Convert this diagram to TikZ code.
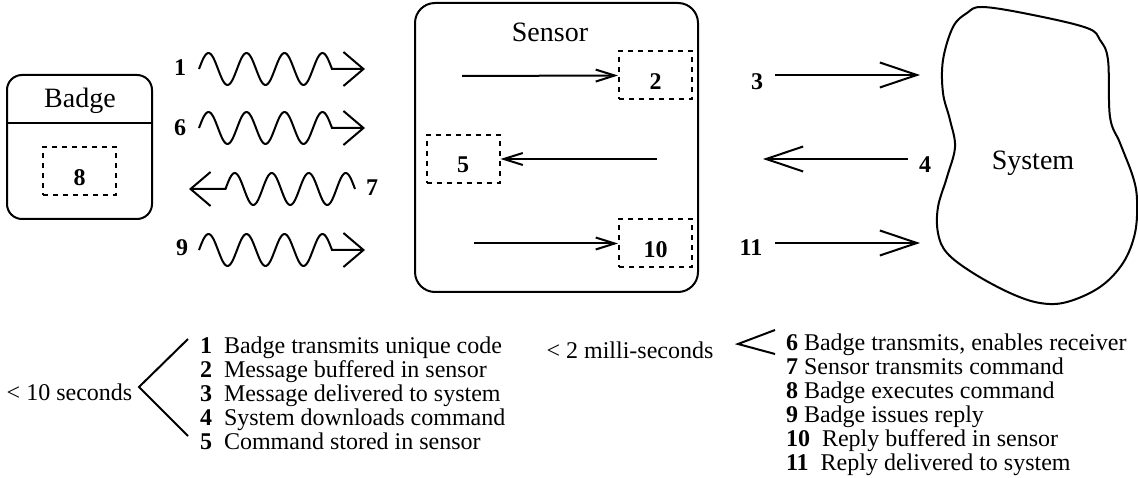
\documentclass[tikz,border=0pt]{standalone}
\usepackage{fontspec}
\setmainfont{Liberation Serif}
\usetikzlibrary{arrows.meta}

\tikzset{
    lbl/.style={font=\fontsize{28}{28}\selectfont, inner sep=0pt},
    num/.style={font=\fontsize{24}{24}\selectfont\bfseries, inner sep=0pt},
    unit/.style={draw, rounded corners=#1, inner sep=0pt},
    buffer/.style={draw, dash pattern=on 5pt off 5pt, minimum width=73pt, minimum height=48pt,
        inner sep=0pt, text height=28pt, font=\fontsize{24}{24}\selectfont\bfseries},
    radio/.style={-{Straight Barb[length=20pt, width=34pt]}},
    wire/.style={-{Straight Barb[length=19pt, width=12pt]}},
    link/.style={-{Straight Barb[length=37pt, width=25pt]}},
    note/.style={font=\fontsize{24}{24}\selectfont, inner sep=0pt, align=left},
}

\begin{document}
\begin{tikzpicture}[x=1pt, y=-1pt, line width=2pt]
        \useasboundingbox (0,0) rectangle (1138,478);

        % badge
        \node[unit=15pt, minimum width=145pt, minimum height=144pt] (badge) at (79.5,147) {};
        \node[lbl] (badgelbl) at (80,101) {Badge};
        \draw (badge.west |- 0,123) -- (badge.east |- 0,123);
        \node[buffer] (b8) at (79.5,171.5) {8};

        % sensor
        \node[unit=20pt, minimum width=283pt, minimum height=289pt] (sensor) at (556.5,147.5) {};
        \node[lbl] (sensorlbl) at (550,32) {Sensor};
        \node[buffer] (b2)  at (655.5,75.5) {2};
        \node[buffer] (b5)  at (463,159) {5};
        \node[buffer] (b10) at (655.5,243.5) {10};

        \coordinate (a2)  at (462,76);
        \coordinate (a5)  at (657,159);
        \coordinate (a10) at (474,243.5);
        \draw[wire] (a2) -- (b2.west);
        \draw[wire] (a5) -- (b5.east);
        \draw[wire] (a10) -- (b10.west);

        % system
        \draw plot[smooth cycle, tension=0.6] coordinates {(967,13) (983,7) (1033,15) (1087,28)
            (1100,40) (1108,60) (1110,117) (1120,143) (1133,177) (1137,200) (1135,233)
            (1123,263) (1100,287) (1067,302) (1040,303) (1010,293) (973,273) (947,253)
            (938,233) (938,207) (947,177) (955,147) (950,120) (943,93) (943,60) (953,27)};
        \node[lbl] (systemlbl) at (1033,163) {System};

        % radio links
        \node[num] (l1) at (180,68)  {1};
        \node[num] (l6) at (180,128) {6};
        \node[num] (l7) at (372,188) {7};
        \node[num] (l9) at (182,248) {9};

        \coordinate (r1s) at (199,69);  \coordinate (r1e) at (365,69);
        \coordinate (r6s) at (199,128); \coordinate (r6e) at (365,128);
        \coordinate (r7s) at (355,189); \coordinate (r7e) at (189,189);
        \coordinate (r9s) at (199,250); \coordinate (r9e) at (365,250);
        \draw[radio, shift={(r1s)}] plot[domain=0:1260, samples=120, smooth] ({\x/360*38}, {-16*sin(\x)}) -- (r1e);
        \draw[radio, shift={(r6s)}] plot[domain=0:1260, samples=120, smooth] ({\x/360*38}, {-16*sin(\x)}) -- (r6e);
        \draw[radio, shift={(r7s)}] plot[domain=0:1260, samples=120, smooth] ({-\x/360*37}, {-16*sin(\x)}) -- (r7e);
        \draw[radio, shift={(r9s)}] plot[domain=0:1260, samples=120, smooth] ({\x/360*38}, {-16*sin(\x)}) -- (r9e);

        % wired links
        \node[num] (l3)  at (757,82)  {3};
        \node[num] (l4)  at (925,165) {4};
        \node[num] (l11) at (751,248) {11};

        \coordinate (s3s)  at (775,75);  \coordinate (s3e)  at (920,75);
        \coordinate (s4s)  at (908,159); \coordinate (s4e)  at (763,159);
        \coordinate (s11s) at (775,243); \coordinate (s11e) at (920,243);
        \draw[link] (s3s) -- (s3e);
        \draw[link] (s4s) -- (s4e);
        \draw[link] (s11s) -- (s11e);

        % timing
        \node[note] (slow) at (69.5,392) {\textless{} 10 seconds};
        \draw (188,339) -- (139,387) -- (188,436);
        \node[note, anchor=west] (slowlist) at (199,393) {%
            \textbf{1}~~Badge transmits unique code\\
            \textbf{2}~~Message buffered in sensor\\
            \textbf{3}~~Message delivered to system\\
            \textbf{4}~~System downloads command\\
            \textbf{5}~~Command stored in sensor};

        \node[note] (fast) at (630,350) {\textless{} 2 milli-seconds};
        \draw (775,330) -- (738,344) -- (775,354);
        \node[note, anchor=west] (fastlist) at (785,405) {%
            \textbf{6}~Badge transmits, enables receiver\\
            \textbf{7}~Sensor transmits command\\
            \textbf{8}~Badge executes command\\
            \textbf{9}~Badge issues reply\\
            \textbf{10}~~Reply buffered in sensor\\
            \textbf{11}~~Reply delivered to system};
    \end{tikzpicture}
\end{document}
